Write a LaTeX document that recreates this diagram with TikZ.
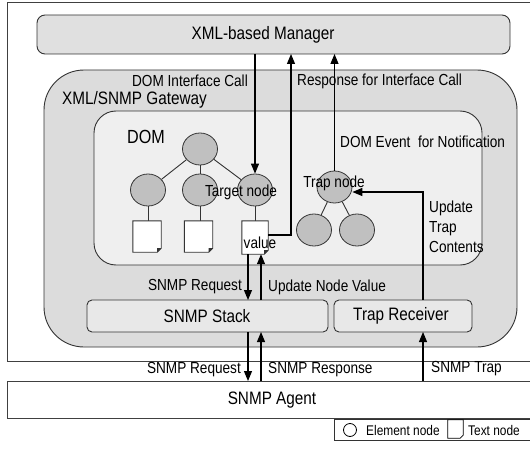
\documentclass[tikz,border=0pt]{standalone}
\usepackage{fontspec}
\setmainfont{Liberation Sans}[FakeStretch=0.85]
\usetikzlibrary{arrows.meta,shapes.geometric}
\definecolor{mgrfill}{HTML}{E0E0E0}
\definecolor{gwfill}{HTML}{DCDCDC}
\definecolor{domfill}{HTML}{EFEFEF}
\definecolor{circfill}{HTML}{C0C0C0}
\definecolor{stackfill}{HTML}{E8E8E8}
\definecolor{linec}{HTML}{333333}
\begin{document}
\begin{tikzpicture}[x=1pt,y=-1pt,
  box/.style={rectangle, inner sep=0pt, outer sep=0pt},
  lbl/.style={inner sep=0pt, font=\fontsize{16}{20}\selectfont},
  biglbl/.style={inner sep=0pt, font=\fontsize{18}{20}\selectfont},
  smalllbl/.style={inner sep=0pt, font=\fontsize{14}{16}\selectfont},
  elem/.style={ellipse, draw=linec, fill=circfill, line width=0.8pt, minimum width=35, minimum height=32, inner sep=0pt},
  docbox/.style={rectangle, minimum width=28, minimum height=31, inner sep=0pt},
  treeline/.style={draw=linec, line width=0.9pt},
  arr/.style={draw=black, line width=1.1pt, -{Triangle[length=10pt,width=8pt]}},
  plain/.style={draw=black, line width=1.1pt}
]
\useasboundingbox (0,0) rectangle (530,452);
\clip (0,0) rectangle (530,452);
\fill[white] (0,0) rectangle (530,452);

% outer boxes
\node[box, draw=black!75, line width=1pt, fill=white, minimum width=540, minimum height=358] (outer) at (277,182) {};
\node[box, draw=black!75, line width=1pt, fill=white, minimum width=540, minimum height=37] (agent) at (277,399.5) {};
\node[biglbl] (agentlbl) at (272,400) {SNMP Agent};
\node[box, draw=black!80, line width=0.9pt, fill=white, minimum width=210, minimum height=21] (legend) at (439,429.5) {};

% manager
\node[box, draw=linec, line width=0.9pt, fill=mgrfill, rounded corners=8pt, minimum width=473, minimum height=39] (mgr) at (273.5,34.5) {};
\node[biglbl] (mgrlbl) at (263,35) {XML-based Manager};

% gateway
\node[box, draw=linec, line width=0.9pt, fill=gwfill, rounded corners=40pt, minimum width=473, minimum height=277] (gw) at (280.5,208.5) {};
\node[biglbl, anchor=west] (gwlbl) at (62,100) {XML/SNMP Gateway};

% DOM
\node[box, draw=linec, line width=0.9pt, fill=domfill, rounded corners=22pt, minimum width=388, minimum height=154] (dom) at (288,188) {};
\node[inner sep=0pt, font=\fontsize{19}{20}\selectfont, anchor=west] (domlbl) at (127,137) {DOM};

% stack and trap receiver
\node[box, draw=linec, line width=0.9pt, fill=stackfill, rounded corners=5pt, minimum width=241, minimum height=32] (stack) at (207.5,316) {};
\node[biglbl] (stacklbl) at (207,316) {SNMP Stack};
\node[box, draw=linec, line width=0.9pt, fill=stackfill, rounded corners=5pt, minimum width=138, minimum height=32] (trx) at (403,316) {};
\node[biglbl] (trxlbl) at (401,316) {Trap Receiver};

% tree
\node[elem] (root) at (200,149) {};
\node[elem] (c1) at (148,190) {};
\node[elem] (c2) at (200,190) {};
\node[elem] (c3) at (255,190) {};
\node[docbox] (d1) at (147,236.5) {};
\node[docbox] (d2) at (198.5,236.5) {};
\node[docbox, minimum width=26, minimum height=33] (vbox) at (255,237.5) {};
\draw[treeline] (root) -- (c1);
\draw[treeline] (root) -- (c2);
\draw[treeline] (root) -- (c3);
\draw[treeline] (c1) -- (c1 |- d1.north);
\draw[treeline] (c2) -- (c2 |- d2.north);
\draw[treeline] (c3) -- (c3 |- vbox.north);
\foreach \d in {d1,d2,vbox}{
  \draw[draw=linec, line width=0.9pt, fill=white] (\d.north west) -- (\d.north east) -- ([yshift=4pt]\d.south east) -- ([xshift=-4pt]\d.south east) -- (\d.south west) -- cycle;
  \fill[linec] ([yshift=4pt]\d.south east) -- ([xshift=-4pt,yshift=4pt]\d.south east) -- ([xshift=-4pt]\d.south east) -- cycle;
}

% trap subtree
\node[elem] (trap) at (334.5,187) {};
\node[elem] (t1) at (314,230) {};
\node[elem] (t2) at (357,230) {};
\draw[treeline] (trap) -- (t1);
\draw[treeline] (trap) -- (t2);

% coordinates for connectors
\coordinate (rsp) at (291,235);
\coordinate (upd) at (423,192);
\coordinate (rq) at (248,0);
\coordinate (up) at (261,0);

% connectors
\draw[arr] (c3 |- mgr.south) -- (c3.north);
\draw[arr] (vbox.east |- rsp) -- (rsp) -- (rsp |- mgr.south);
\draw[arr] (trap.north) -- (trap.north |- mgr.south);
\draw[arr] (upd |- trx.north) -- (upd) -- (upd -| trap.east);
\draw[arr] (rq |- vbox.south) -- (rq |- stack.north);
\draw[arr] (up |- stack.north) -- (up |- vbox.south);
\draw[arr] (rq |- stack.south) -- (rq |- agent.north);
\draw[arr] (up |- agent.north) -- (up |- stack.south);
\draw[arr] (upd |- agent.north) -- (upd |- trx.south);

% labels
\node[lbl, anchor=east] (l1) at (248,81) {DOM Interface Call};
\node[lbl, anchor=west] (l2) at (297,81) {Response for Interface Call};
\node[lbl, anchor=west] (l3) at (340,142) {DOM Event~ for Notification};
\node[lbl] (l4) at (241,192) {Target node};
\node[lbl] (l5) at (334,183) {Trap node};
\node[lbl] (l6) at (260,243) {value};
\node[lbl, anchor=west, align=left] (l7) at (429,227) {Update\\Trap\\Contents};
\node[lbl, anchor=east] (l8) at (242,287) {SNMP Request};
\node[lbl, anchor=west] (l9) at (268,287) {Update Node Value};
\node[lbl, anchor=east] (l10) at (241,370) {SNMP Request};
\node[lbl, anchor=west] (l11) at (268,370) {SNMP Response};
\node[lbl, anchor=west] (l12) at (431,369) {SNMP Trap};

% legend content
\node[circle, draw=black, line width=0.8pt, fill=white, minimum size=13, inner sep=0pt] (lgc) at (350,430) {};
\node[smalllbl, anchor=west] (lgt1) at (366,430) {Element node};
\node[docbox, minimum width=15, minimum height=18] (lgd) at (455.5,429) {};
\draw[draw=black, line width=0.8pt, fill=white] (lgd.north west) -- (lgd.north east) -- ([yshift=3pt]lgd.south east) -- ([xshift=-3pt]lgd.south east) -- (lgd.south west) -- cycle;
\node[smalllbl, anchor=west] (lgt2) at (468,430) {Text node};
\end{tikzpicture}
\end{document}
